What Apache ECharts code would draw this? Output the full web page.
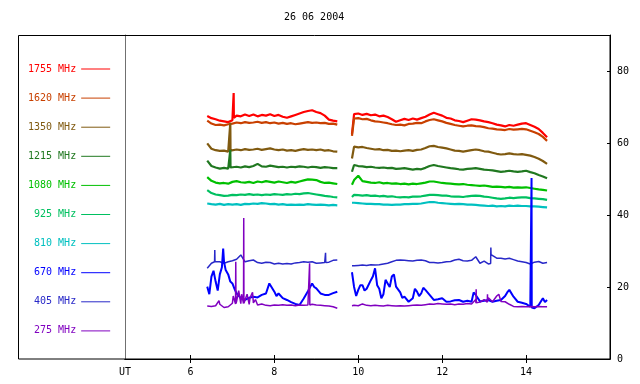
<!DOCTYPE html>
<html><head><meta charset="utf-8">
<script src="https://cdn.jsdelivr.net/npm/echarts@6/dist/echarts.min.js"></script>
<style>html,body{margin:0;padding:0;background:#fff}#c{width:640px;height:384px}</style>
</head><body><div id="c"></div>
<script>
const chartTitle = '26 06 2004';
const names = ['1755 MHz','1620 MHz','1350 MHz','1215 MHz','1080 MHz','925 MHz','810 MHz','670 MHz','405 MHz','275 MHz'];
const colors = ['#ff0000','#c84000','#805a10','#207820','#00c000','#00c060','#00c0c0','#0000ff','#2828c8','#8000c0'];
const xTicks = [6,8,10,12,14];
const yTicks = [0,20,40,60,80];
const utHour = 4.44;
const gapHour = 9.7;

const hours1 = [6.4,6.5,6.6,6.7,6.8,6.9,7.0,7.1,7.2,7.3,7.4,7.5,7.6,7.7,7.8,7.9,8.0,8.1,8.2,8.3,8.4,8.5,8.6,8.7,8.8,8.9,9.0,9.1,9.2,9.3,9.4,9.5];
const hours2 = [9.85,9.9,10.0,10.1,10.2,10.3,10.4,10.5,10.6,10.7,10.8,10.9,11.0,11.1,11.2,11.3,11.4,11.5,11.6,11.7,11.8,11.9,12.0,12.1,12.2,12.3,12.4,12.5,12.6,12.7,12.8,12.9,13.0,13.1,13.2,13.3,13.4,13.5,13.6,13.7,13.8,13.9,14.0,14.1,14.2,14.3,14.4,14.5];

const f1755a = [67.5,66.9,66.6,66.2,66.0,65.8,66.3,67.6,67.4,67.9,67.5,67.9,67.4,67.8,67.6,68.0,67.5,67.8,67.3,67.0,67.4,67.8,68.2,68.6,68.9,69.1,68.6,68.3,67.6,66.5,66.2,66.0];
const f1755b = [62.5,68.0,68.2,67.8,68.1,67.7,67.9,67.4,67.6,67.2,66.6,65.9,66.3,66.7,66.4,66.8,66.5,66.9,67.3,67.9,68.4,68.0,67.6,67.0,66.8,66.3,66.1,65.8,66.2,66.6,66.5,66.3,66.0,65.8,65.5,65.1,64.9,64.6,65.0,64.8,65.1,65.4,65.5,65.0,64.5,63.9,62.8,61.6];
const f1755s = [[7.025,66.5],[7.03,73.9],[7.035,67.0]];

const f1620a = [66.2,65.4,65.0,65.1,64.9,65.2,65.4,65.7,65.5,65.8,65.6,65.7,65.9,65.6,65.8,65.5,65.7,65.4,65.6,65.3,65.5,65.2,65.4,65.6,65.8,65.6,65.7,65.5,65.6,65.3,65.4,65.1];
const f1620b = [62.0,66.8,66.9,66.6,66.7,66.3,66.0,65.9,65.7,65.5,65.2,65.0,65.1,64.9,65.3,65.4,65.6,65.5,66.0,66.4,66.6,66.3,66.0,65.6,65.3,65.0,64.8,64.6,64.8,64.9,64.7,64.6,64.4,64.1,64.0,63.8,63.7,63.6,63.9,63.7,63.8,63.9,63.8,63.4,63.0,62.5,61.7,60.6];
const f1620s = [];

const f1350a = [59.9,58.4,58.0,57.8,57.9,57.6,58.0,58.2,58.0,58.3,58.1,58.2,58.4,58.1,58.3,58.5,58.2,58.0,58.2,57.9,58.0,57.8,58.1,58.3,58.1,58.2,58.0,58.2,57.9,58.0,57.7,57.6];
const f1350b = [55.7,59.0,58.8,58.9,58.6,58.4,58.2,58.3,58.0,58.1,57.8,57.9,57.7,57.9,58.0,57.8,58.1,58.2,58.6,59.1,59.2,58.9,58.7,58.5,58.2,57.9,57.8,57.6,57.8,58.0,58.2,58.0,57.7,57.6,57.3,57.0,56.8,56.9,57.1,56.9,56.8,56.9,56.7,56.5,56.1,55.6,55.0,54.2];
const f1350s = [[6.945,57.8],[6.95,65.6],[6.955,57.9]];

const f1215a = [55.1,53.6,53.2,52.9,53.1,52.9,53.3,53.4,53.2,53.5,53.3,53.6,54.2,53.5,53.4,53.7,53.5,53.3,53.4,53.2,53.4,53.3,53.5,53.4,53.2,53.4,53.3,53.1,53.3,53.2,53.0,53.0];
const f1215b = [52.0,53.9,53.6,53.5,53.3,53.4,53.2,53.1,53.2,53.0,53.1,52.8,52.9,53.0,52.8,52.6,52.8,52.7,53.1,53.6,53.9,53.6,53.4,53.2,53.0,52.9,52.7,52.6,52.8,52.9,53.0,52.8,52.6,52.5,52.4,52.2,52.0,52.1,52.3,52.1,52.0,52.1,52.3,51.9,51.6,51.1,50.7,50.2];
const f1215s = [[6.945,53.0],[6.95,58.1],[6.955,53.2]];

const f1080a = [50.5,49.5,49.0,48.8,48.9,48.7,49.2,49.4,49.1,49.0,49.2,48.9,49.3,49.1,49.4,49.2,49.0,49.3,49.1,48.9,49.2,49.0,49.3,49.6,49.9,49.8,49.7,49.2,48.9,49.0,48.8,48.6];
const f1080b = [48.4,49.7,50.9,49.4,49.2,49.0,48.9,49.1,48.8,48.9,48.7,48.8,48.6,48.7,48.5,48.7,48.6,48.8,49.0,49.3,49.3,49.1,48.9,48.8,48.7,48.6,48.5,48.6,48.4,48.3,48.2,48.1,48.2,48.0,47.8,47.9,47.8,47.7,47.8,47.6,47.7,47.6,47.7,47.5,47.3,47.1,47.0,46.8];
const f1080s = [];

const f925a = [46.9,46.1,45.7,45.5,45.3,45.4,45.6,45.5,45.7,45.6,45.8,45.6,45.7,45.5,45.7,45.6,45.8,45.7,45.6,45.8,45.7,45.9,45.8,46.0,46.1,45.9,45.7,45.5,45.3,45.2,45.0,44.9];
const f925b = [45.0,45.6,45.5,45.4,45.5,45.3,45.4,45.2,45.3,45.1,45.2,45.0,44.9,45.0,44.9,45.1,45.1,45.2,45.4,45.6,45.6,45.5,45.4,45.4,45.2,45.1,45.1,45.0,45.2,45.3,45.4,45.3,45.1,45.0,44.8,44.6,44.5,44.6,44.8,44.7,44.8,44.9,44.9,44.7,44.6,44.5,44.4,44.2];
const f925s = [];

const f810a = [43.2,43.0,42.9,43.1,42.8,43.0,42.9,43.0,42.8,43.1,43.0,43.2,43.1,43.3,43.2,43.0,43.1,42.9,43.0,42.8,42.9,42.8,42.9,42.8,43.0,42.9,42.8,42.9,42.8,42.7,42.8,42.7];
const f810b = [43.4,43.4,43.3,43.2,43.1,43.1,43.0,43.0,42.9,42.9,42.8,42.9,42.9,43.0,43.0,43.1,43.1,43.2,43.4,43.6,43.6,43.4,43.3,43.2,43.1,43.0,43.1,43.0,42.9,42.9,42.8,42.7,42.6,42.5,42.6,42.4,42.5,42.4,42.6,42.5,42.6,42.5,42.5,42.4,42.4,42.3,42.2,42.1];
const f810s = [];

const f670a = [20.1,22.9,21.5,23.5,27.0,23.5,21.0,18.2,16.9,16.4,17.0,17.3,17.1,17.8,18.2,20.6,18.7,18.2,16.9,16.4,15.8,15.3,15.0,16.8,18.8,21.0,19.6,18.2,17.8,17.8,18.3,18.7];
const f670b = [24.1,20.0,19.2,20.5,19.5,21.9,25.2,19.5,18.0,21.0,22.9,20.1,18.5,17.3,15.9,16.9,18.7,18.2,19.2,17.8,16.4,16.6,16.9,15.9,16.0,16.3,16.4,15.9,16.2,15.9,17.8,16.0,16.2,16.4,15.9,16.2,16.4,17.5,19.2,17.3,15.9,15.6,15.3,14.5,14.1,15.0,16.9,16.4];
const f670s = [[6.45,18.0],[6.55,24.5],[6.65,19.0],[6.75,25.5],[6.78,30.7],[6.84,24.7],[6.95,21.5],[7.05,19.5],[7.88,21.0],[8.05,17.5],[8.95,20.0],
  [9.95,17.5],[10.05,20.5],[10.15,19.0],[10.35,23.0],[10.45,20.5],[10.55,16.9],[10.65,22.0],[10.75,20.0],[10.85,23.5],[11.05,17.0],[11.35,19.5],[11.45,17.5],[11.55,19.8],[12.75,18.5],[13.55,18.5],
  [14.125,14.5],[14.13,50.3],[14.135,14.3],[14.45,15.8]];

const f405a = [25.2,26.6,27.0,27.0,26.6,27.0,27.3,27.7,28.9,27.0,27.3,27.5,26.8,26.6,26.9,26.8,26.4,26.6,26.4,26.5,26.4,26.7,26.8,27.0,26.9,27.0,26.6,26.7,26.8,26.9,27.4,27.5];
const f405b = [25.9,25.9,26.0,26.1,26.0,26.2,26.1,26.2,26.4,26.6,27.0,27.4,27.5,27.4,27.3,27.2,27.4,27.5,27.3,26.8,26.8,26.7,26.8,27.0,27.1,27.5,27.7,27.3,27.2,27.4,28.4,26.6,27.2,26.4,28.6,28.0,28.0,27.8,28.0,27.6,27.2,27.0,26.8,26.4,26.9,27.1,26.6,26.8];
const f405s = [[6.575,27.0],[6.58,30.3],[6.585,27.0],[9.215,26.8],[9.22,29.5],[9.225,26.8],[13.155,26.5],[13.16,31.0],[13.165,29.0]];

const f275a = [14.7,14.6,14.8,15.2,14.3,14.5,15.5,16.0,15.4,15.8,15.2,15.6,15.0,15.3,14.9,14.8,15.0,14.9,15.1,14.9,15.0,14.8,15.0,14.9,15.0,15.2,15.0,14.9,14.8,14.7,14.5,14.1];
const f275b = [14.8,14.9,14.8,15.3,14.9,14.8,14.9,14.8,14.7,14.9,14.8,14.7,14.8,14.7,14.8,14.9,15.0,14.9,15.1,15.3,15.2,15.4,15.3,15.2,15.3,15.1,15.3,15.2,15.4,15.3,16.5,15.8,16.5,17.0,15.9,17.5,16.0,15.9,15.2,14.6,14.5,14.6,14.5,14.6,14.5,14.6,14.5,14.5];
const f275s = [[6.68,16.2],[7.02,17.5],[7.075,15.3],[7.08,27.0],[7.085,15.4],[7.15,19.0],[7.22,18.0],[7.265,15.4],[7.27,39.2],[7.275,15.5],[7.35,18.0],[7.42,17.0],[7.48,18.5],[7.55,16.5],
  [8.835,15.0],[8.84,26.6],[8.845,15.0],[12.805,15.5],[12.81,19.4],[12.815,15.6],[13.075,15.8],[13.08,18.0],[13.085,16.0],[13.35,18.0]];

const seriesA = [f1755a,f1620a,f1350a,f1215a,f1080a,f925a,f810a,f670a,f405a,f275a];
const seriesB = [f1755b,f1620b,f1350b,f1215b,f1080b,f925b,f810b,f670b,f405b,f275b];
const seriesS = [f1755s,f1620s,f1350s,f1215s,f1080s,f925s,f810s,f670s,f405s,f275s];
const drawOrder = [0,1,2,3,4,5,6,8,7,9];

function build(a, b, s) {
  const pts = [];
  hours1.forEach((h, i) => pts.push([h, a[i]]));
  pts.push([gapHour, '-']);
  hours2.forEach((h, i) => pts.push([h, b[i]]));
  s.forEach(p => pts.push(p));
  pts.sort((p, q) => p[0] - q[0]);
  return pts;
}

const FONT = 'DejaVu Sans Mono';
const chart = echarts.init(document.getElementById('c'), null, {renderer: 'canvas'});
chart.setOption({
  animation: false,
  backgroundColor: '#ffffff',
  title: {text: chartTitle, left: 279, top: 7, textStyle: {fontFamily: FONT, fontSize: 10, fontWeight: 'normal', color: '#000'}},
  grid: {left: 125, right: 30, top: 35, bottom: 25, containLabel: false},
  legend: {
    orient: 'vertical', left: 28, top: 63, padding: 0, align: 'right',
    icon: 'rect', itemWidth: 29, itemHeight: 1, itemGap: 17.1, selectedMode: false,
    data: names.map((n, i) => ({name: n, icon: 'rect', textStyle: {color: colors[i]}})),
    formatter: n => (n.length < 8 ? ' ' + n : n),
    textStyle: {fontFamily: FONT, fontSize: 10, lineHeight: 12}
  },
  xAxis: [{
    type: 'value', min: utHour, max: 16, position: 'bottom',
    axisLine: {show: true, lineStyle: {color: '#000', width: 1}},
    axisTick: {show: true, inside: true, length: 4, customValues: xTicks, lineStyle: {color: '#000'}},
    axisLabel: {show: true, customValues: [utHour].concat(xTicks), margin: 8,
      formatter: v => (Math.abs(v - utHour) < 0.01 ? 'UT' : String(v)),
      fontFamily: FONT, fontSize: 10, color: '#000'},
    splitLine: {show: false}
  }, {
    type: 'value', min: utHour, max: 16, position: 'top',
    axisLine: {show: true, lineStyle: {color: '#000', width: 1}},
    axisTick: {show: true, inside: true, length: 4, customValues: xTicks, lineStyle: {color: '#000'}},
    axisLabel: {show: false},
    splitLine: {show: false}
  }],
  yAxis: [{
    type: 'value', min: 0, max: 90, position: 'right',
    axisLine: {show: true, lineStyle: {color: '#000', width: 1}},
    axisTick: {show: true, inside: true, length: 3, customValues: yTicks, lineStyle: {color: '#000'}},
    axisLabel: {show: true, customValues: yTicks, margin: 7, fontFamily: FONT, fontSize: 10, color: '#000'},
    splitLine: {show: false}
  }, {
    type: 'value', min: 0, max: 90, position: 'left',
    axisLine: {show: true, lineStyle: {color: '#707070', width: 1}},
    axisTick: {show: false}, axisLabel: {show: false}, splitLine: {show: false}
  }],
  graphic: [{
    type: 'rect', silent: true, z: 100,
    shape: {x: 18.5, y: 35.5, width: 591.5, height: 323.5},
    style: {fill: 'none', stroke: '#000', lineWidth: 1}
  }],
  series: drawOrder.map(i => ({
    name: names[i], type: 'line', xAxisIndex: 0, yAxisIndex: 0,
    symbol: 'none', showSymbol: false, connectNulls: false,
    color: colors[i],
    lineStyle: {width: i < 7 ? 2.2 : (i === 7 ? 2 : 1.5), color: colors[i]},
    data: build(seriesA[i], seriesB[i], seriesS[i])
  }))
});
</script>
</body></html>
